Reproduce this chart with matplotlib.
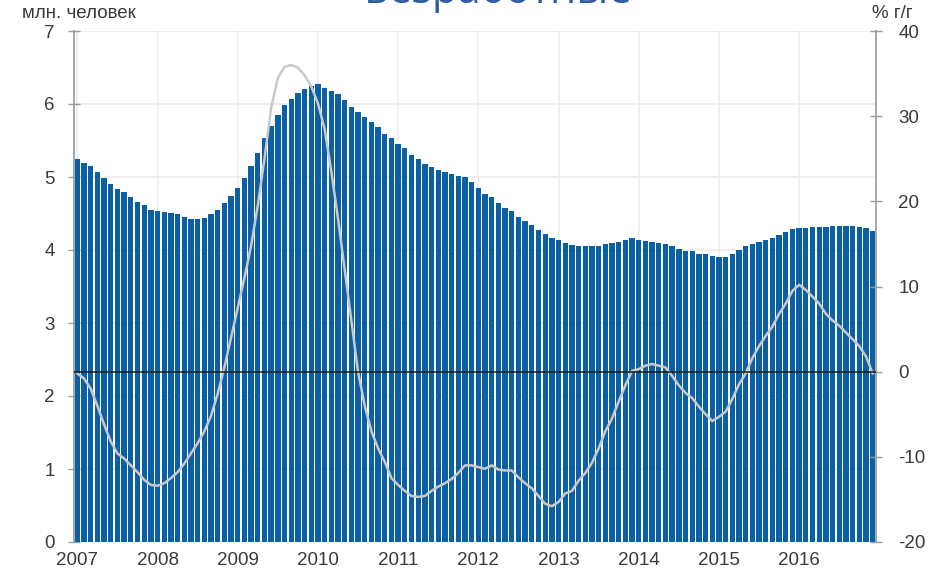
"""
unemployment_chart.py

Unemployed persons (mln, monthly bars) with year-over-year change (%, line)
on a secondary axis, 2007-2016.
"""

import numpy as np
import matplotlib.pyplot as plt

plt.rcParams['font.family'] = ['Liberation Sans', 'DejaVu Sans']
plt.rcParams['axes.unicode_minus'] = False

YEARS = [str(y) for y in range(2007, 2017)]

# unemployed, mln persons (monthly, Jan 2007 .. Dec 2016)
UNEMPLOYED = [
    5.24, 5.19, 5.15, 5.07, 4.99, 4.90, 4.83, 4.79, 4.73, 4.66, 4.61, 4.55,  # 2007
    4.53, 4.52, 4.51, 4.49, 4.45, 4.43, 4.43, 4.44, 4.49, 4.55, 4.64, 4.74,  # 2008
    4.85, 4.99, 5.15, 5.33, 5.53, 5.70, 5.85, 5.98, 6.07, 6.15, 6.21, 6.24,  # 2009
    6.27, 6.22, 6.18, 6.14, 6.06, 5.96, 5.89, 5.82, 5.76, 5.69, 5.59, 5.53,  # 2010
    5.45, 5.40, 5.30, 5.25, 5.18, 5.14, 5.10, 5.07, 5.04, 5.01, 5.00, 4.93,  # 2011
    4.85, 4.77, 4.73, 4.65, 4.58, 4.53, 4.45, 4.40, 4.34, 4.27, 4.22, 4.16,  # 2012
    4.14, 4.10, 4.07, 4.06, 4.06, 4.06, 4.06, 4.08, 4.09, 4.11, 4.14, 4.16,  # 2013
    4.14, 4.13, 4.11, 4.09, 4.08, 4.05, 4.01, 3.99, 3.98, 3.95, 3.94, 3.92,  # 2014
    3.91, 3.91, 3.95, 4.00, 4.05, 4.08, 4.11, 4.14, 4.16, 4.20, 4.24, 4.29,  # 2015
    4.30, 4.30, 4.31, 4.31, 4.32, 4.33, 4.33, 4.33, 4.33, 4.32, 4.30, 4.26,  # 2016
]

# change, % y/y
YOY = [
    -0.2, -0.8, -2.0, -4.0, -6.2, -8.2, -9.6, -10.2, -11.0, -11.8, -12.7, -13.3,
    -13.4, -13.1, -12.5, -11.8, -10.8, -9.6, -8.4, -7.0, -5.2, -2.6, 0.5, 4.0,
    7.5, 11.0, 14.8, 19.5, 25.0, 31.0, 34.5, 35.8, 36.0, 35.7, 34.8, 33.5,
    31.5, 28.5, 23.5, 18.0, 12.0, 6.0, 0.0, -4.0, -7.0, -9.0, -10.6, -12.5,
    -13.3, -14.0, -14.6, -14.7, -14.6, -14.0, -13.5, -13.1, -12.6, -11.9, -11.0, -11.0,
    -11.2, -11.4, -11.0, -11.5, -11.6, -11.6, -12.4, -13.1, -13.7, -14.6, -15.5, -15.8,
    -15.3, -14.3, -14.0, -12.8, -11.9, -10.7, -9.0, -7.0, -5.5, -3.5, -1.6, 0.1,
    0.3, 0.7, 0.9, 0.7, 0.5, -0.5, -1.6, -2.5, -3.1, -4.1, -5.0, -5.8,
    -5.3, -4.7, -3.2, -1.5, -0.2, 1.6, 3.0, 4.2, 5.3, 6.8, 8.0, 9.5,
    10.2, 9.6, 8.8, 8.0, 6.8, 6.0, 5.4, 4.6, 3.8, 3.0, 1.8, -0.2,
]

BAR_COLOR = '#0b5fa5'
LINE_COLOR = '#c9c9c9'
GRID_COLOR = '#ececec'
AXIS_COLOR = '#9a9a9a'
TEXT_COLOR = '#3a3a3a'
FS = 13.5


def main():
    fig = plt.figure(figsize=(9.43, 5.79), dpi=100)
    ax = fig.add_axes([74 / 943, 1 - 542 / 579, 802 / 943, 511 / 579])
    ax2 = ax.twinx()

    x = np.arange(len(UNEMPLOYED))
    ax.bar(x, UNEMPLOYED, width=0.8, color=BAR_COLOR, zorder=2)

    ax.set_xlim(-0.5, len(UNEMPLOYED) - 0.5)
    ax.set_ylim(0, 7)
    ax.set_yticks(range(0, 8))
    ax.set_xticks(np.arange(len(YEARS)) * 12)
    ax.set_xticklabels(YEARS)
    ax.grid(True, color=GRID_COLOR, linewidth=1.2, zorder=0)
    ax.set_axisbelow(True)

    ax2.plot(x, YOY, color=LINE_COLOR, linewidth=1.8, zorder=3)
    ax2.axhline(0, color='#1a1a1a', linewidth=1.1, zorder=4)
    ax2.set_ylim(-20, 40)
    ax2.set_yticks(range(-20, 41, 10))

    for a in (ax, ax2):
        for side in ('top', 'bottom'):
            a.spines[side].set_visible(False)
        a.spines['left'].set_color(AXIS_COLOR)
        a.spines['right'].set_color(AXIS_COLOR)
        a.spines['left'].set_linewidth(1.2)
        a.spines['right'].set_linewidth(1.2)
        a.tick_params(axis='y', direction='inout', length=8, width=1,
                      color=AXIS_COLOR, labelsize=FS, labelcolor=TEXT_COLOR)
    ax.spines['right'].set_visible(False)
    ax2.spines['left'].set_visible(False)
    ax.tick_params(axis='y', pad=10)
    ax2.tick_params(axis='y', pad=12)
    ax.tick_params(axis='x', length=0, pad=7, labelsize=FS, labelcolor=TEXT_COLOR)

    fig.text(22 / 943, 1 - 14 / 579, 'млн. человек', fontsize=FS,
             color=TEXT_COLOR, va='center', ha='left')
    fig.text(872 / 943, 1 - 14 / 579, '% г/г', fontsize=FS,
             color=TEXT_COLOR, va='center', ha='left')
    # title is cropped at the top edge, as in the source picture
    fig.text(498 / 943, 1 - 3.3 / 579, 'Безработные', fontsize=30,
             family='Open Sans', color='#2e5d9f', ha='center', va='baseline')

    fig.savefig('out.png', dpi=100)


if __name__ == '__main__':
    main()
